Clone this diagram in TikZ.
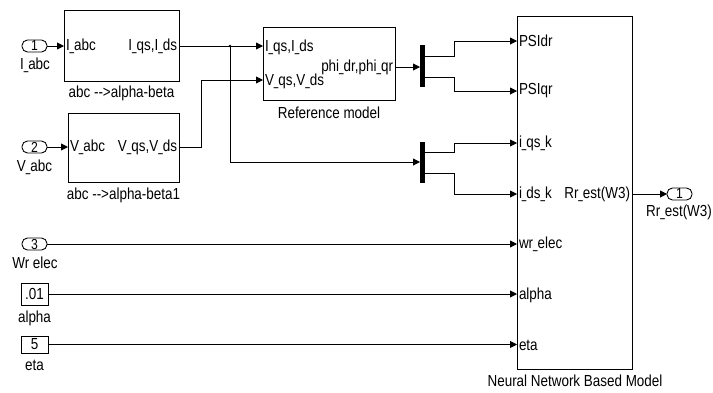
\documentclass[tikz,border=0pt]{standalone}
\usepackage{fontspec}
\setmainfont{Liberation Sans}[FakeStretch=0.84]
\usetikzlibrary{arrows.meta}
\newcommand{\us}{\scalebox{0.6}[1]{\_}}
\begin{document}
\begin{tikzpicture}[x=1bp,y=-1bp,
  every node/.style={font=\fontsize{16bp}{18bp}\selectfont, inner sep=0pt, outer sep=0pt},
  blk/.style={draw, line width=0.9bp, minimum width=#1},
  wire/.style={line width=0.9bp},
  arr/.style={wire, -{Triangle[length=7bp,width=7bp]}},
  inport/.style={draw, line width=0.9bp, rounded corners=5.5bp, minimum width=25bp, minimum height=12bp},
  pnum/.style={font=\fontsize{14.5bp}{15bp}\selectfont},
  cst/.style={draw, line width=0.9bp, minimum width=27bp},
  mux/.style={fill=black, minimum width=5bp},
  plbl/.style={anchor=west},
  prlbl/.style={anchor=east}]
\useasboundingbox (0,0) rectangle (713,392);

% inports and constants
\node[inport] (in1) at (34.5,46) {};
\node[pnum] (in1n) at (34.5,46) {1};
\node (in1l) at (35,65) {I\us abc};
\node[inport] (in2) at (34.5,147) {};
\node[pnum] (in2n) at (34.5,147) {2};
\node (in2l) at (34.5,167) {V\us abc};
\node[inport] (in3) at (34.5,244) {};
\node[pnum] (in3n) at (34.5,244) {3};
\node (in3l) at (35,263) {Wr elec};
\node[cst, minimum height=22bp] (c1) at (34.5,294) {.01};
\node (c1l) at (34.5,318) {alpha};
\node[cst, minimum height=17bp] (c2) at (34.5,344.5) {5};
\node (c2l) at (34.5,365.5) {eta};

% abc -> alpha-beta blocks
\node[blk=115bp, minimum height=71bp] (abc1) at (121.5,45.5) {};
\node[plbl] (abc1i) at (66,46) {I\us abc};
\node[prlbl] (abc1o) at (177,46) {I\us qs,I\us ds};
\node (abc1l) at (121.5,93) {abc -{}->alpha-beta};
\coordinate (abc1in) at (64,46);
\coordinate (abc1out) at (179,46);

\node[blk=111bp, minimum height=69bp] (abc2) at (123.5,147.5) {};
\node[plbl] (abc2i) at (70,147) {V\us abc};
\node[prlbl] (abc2o) at (177,147) {V\us qs,V\us ds};
\node (abc2l) at (123.5,195) {abc -{}->alpha-beta1};
\coordinate (abc2in) at (68,147);
\coordinate (abc2out) at (179,147);

% reference model
\node[blk=132bp, minimum height=73bp] (ref) at (329,63.5) {};
\node[plbl] (refi1) at (265,47) {I\us qs,I\us ds};
\node[plbl] (refi2) at (265,81) {V\us qs,V\us ds};
\node[prlbl] (refo) at (393,67) {phi\us dr,phi\us qr};
\node (refl) at (329,113) {Reference model};
\coordinate (refin1) at (263,46);
\coordinate (refin2) at (263,80);
\coordinate (refout) at (395,67);

% muxes
\node[mux, minimum height=42bp] (mux1) at (422.5,66) {};
\node[mux, minimum height=41bp] (mux2) at (422.5,162.5) {};
\coordinate (m1in) at (420,67);
\coordinate (m1o1) at (425,56);
\coordinate (m1o2) at (425,77);
\coordinate (m2in) at (420,162);
\coordinate (m2o1) at (425,152);
\coordinate (m2o2) at (425,173);

% neural network block
\node[blk=115bp, minimum height=353bp] (nn) at (574.5,192.5) {};
\node[plbl] (nn1) at (519,41) {PSIdr};
\node[plbl] (nn2) at (519,91) {PSIqr};
\node[plbl] (nn3) at (519,143) {i\us qs\us k};
\node[plbl] (nn4) at (519,194) {i\us ds\us k};
\node[plbl] (nn5) at (519,244) {wr\us elec};
\node[plbl] (nn6) at (519,295) {alpha};
\node[plbl] (nn7) at (519,345) {eta};
\node[prlbl] (nno) at (630,194) {Rr\us est(W3)};
\node (nnl) at (575,381) {Neural Network Based Model};
\coordinate (nnin1) at (517,41);
\coordinate (nnin2) at (517,91);
\coordinate (nnin3) at (517,143);
\coordinate (nnin4) at (517,194);
\coordinate (nnin5) at (517,244);
\coordinate (nnin6) at (517,294);
\coordinate (nnin7) at (517,344.5);
\coordinate (nnout) at (632,194);

% outport
\node[inport] (out1) at (679.5,194) {};
\node[pnum] (out1n) at (679.5,194) {1};
\node (out1l) at (679,212) {Rr\us est(W3)};

% junction
\coordinate (jn) at (230,46);
\fill (jn) circle (1.3bp);

% connectors
\draw[arr] (in1.east) -- (abc1in);
\draw[arr] (in2.east) -- (abc2in);
\draw[arr] (abc1out) -- (refin1);
\draw[arr] (abc2out) -- (201,147) -- (201,80) -- (refin2);
\draw[arr] (jn) -- (230,162) -- (m2in);
\draw[arr] (refout) -- (m1in);
\draw[arr] (m1o1) -- (454,56) -- (454,41) -- (nnin1);
\draw[arr] (m1o2) -- (454,77) -- (454,91) -- (nnin2);
\draw[arr] (m2o1) -- (454,152) -- (454,143) -- (nnin3);
\draw[arr] (m2o2) -- (454,173) -- (454,194) -- (nnin4);
\draw[arr] (in3.east) -- (nnin5);
\draw[arr] (c1.east) -- (nnin6);
\draw[arr] (c2.east) -- (nnin7);
\draw[arr] (nnout) -- (out1.west);
\end{tikzpicture}
\end{document}
